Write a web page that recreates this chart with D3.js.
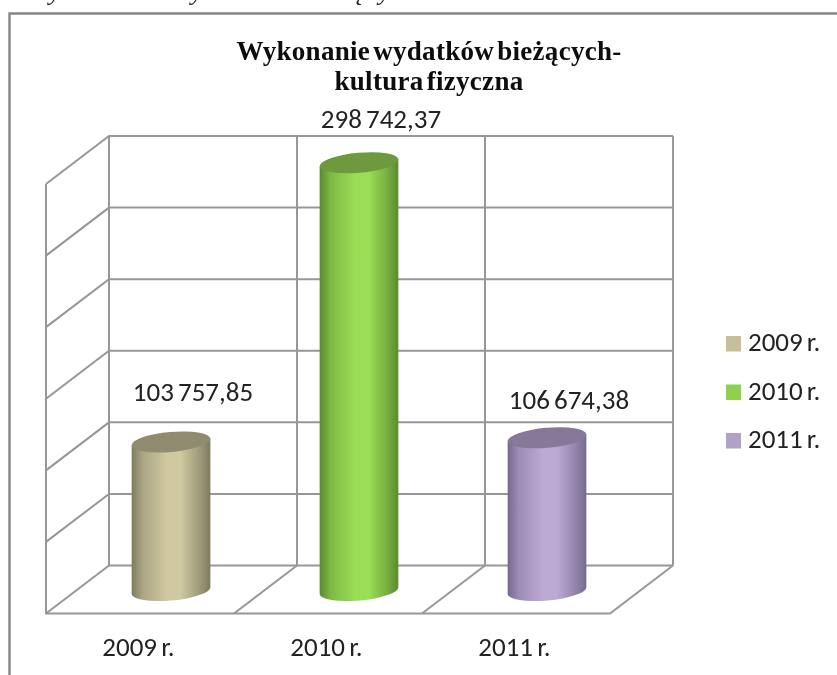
<!DOCTYPE html>
<html><head><meta charset="utf-8">
<script src="https://cdn.jsdelivr.net/npm/d3@7"></script>
<style>html,body{margin:0;padding:0;background:#fff}svg{display:block}</style>
</head><body><svg id="c" width="837" height="675"></svg>
<script>
const categories=["2009 r.","2010 r.","2011 r."];
const values=[103757.85,298742.37,106674.38];
const valueLabels=["103 757,85","298 742,37","106 674,38"];
const tickValues=[0,50000,100000,150000,200000,250000,300000];
const bodyColors=["#cfc8a0","#9ade56","#bcaad4"];
const legendColors=["#c6bf9a","#8fd14f","#b1a0c7"];
const darkColors=["#7d7a60","#5c8a30","#77688f"];
const topColors=["#918c6f","#6c9a3e","#87789a"];
const titleLines=["Wykonanie wydatków bieżących-","kultura fizyczna"];
const caption="Wydatki na wydatków bieżących w latach 2009 - 2011 r.";
const labelBaselines=[400.5,128,409];

const svg=d3.select("#c");
const defs=svg.append("defs");
const grid="#979797";
const font="Carlito, Calibri, 'Open Sans', 'Noto Sans', sans-serif";
const dx=63, dy=48;
const y=d3.scaleLinear().domain([0,300000]).range([565.5,136]);
const x=d3.scaleBand().domain(categories).range([109,673]);
const barBase=590.5, rx=39.5, ry=10, tilt=-5;

defs.append("filter").attr("id","soft").append("feGaussianBlur").attr("stdDeviation",0.45);
const soft=svg.append("g").attr("filter","url(#soft)");

soft.append("text").attr("x",28).attr("y",-0.5).attr("font-family","Liberation Serif")
  .attr("font-style","italic").attr("font-size",26).attr("letter-spacing",2).attr("fill","#222").text(caption);
soft.append("path").attr("d","M9.5,675V13.5H837").attr("fill","none").attr("stroke","#868686").attr("stroke-width",2.4);

const g=soft.append("g").attr("fill","none").attr("stroke",grid).attr("stroke-width",2);
tickValues.forEach(t=>{
  const yy=y(t);
  g.append("path").attr("d",d3.line()([[109-dx,yy+dy],[109,yy],[673,yy]]));
});
g.append("path").attr("d",d3.line()([[109-dx,y(300000)+dy],[109-dx,y(0)+dy],[673-dx,y(0)+dy],[673,y(0)]]));
[...categories.map(c=>x(c)),673].forEach(px=>{
  g.append("path").attr("d",d3.line()([[px,y(300000)],[px,y(0)]]));
});
categories.slice(1).forEach(c=>{
  g.append("path").attr("d",d3.line()([[x(c),y(0)],[x(c)-dx,y(0)+dy]]));
});

const hScale=d3.scaleLinear().domain([0,300000]).range([0,y(0)-y(300000)]);
categories.forEach((c,i)=>{
  const cx=x(c)+x.bandwidth()/2-dx/2-0.5;
  const topY=barBase-hScale(values[i]);
  const id="grad"+i;
  const mix=d3.interpolateRgb(darkColors[i],bodyColors[i]);
  const lg=defs.append("linearGradient").attr("id",id).attr("x1",0).attr("x2",1).attr("y1",0).attr("y2",0);
  [[0,darkColors[i]],[.14,mix(.55)],[.45,bodyColors[i]],[.62,bodyColors[i]],[.85,mix(.45)],[1,darkColors[i]]]
    .forEach(s=>lg.append("stop").attr("offset",s[0]).attr("stop-color",s[1]));
  const a=tilt*Math.PI/180, ex=rx*Math.cos(a), ey=rx*Math.sin(a);
  const l=cx-ex, r=cx+ex;
  soft.append("path")
    .attr("d",`M${l},${topY-ey}L${l},${barBase-ey}A${rx},${ry} ${tilt} 0 0 ${r},${barBase+ey}L${r},${topY+ey}Z`)
    .attr("fill",`url(#${id})`);
  soft.append("ellipse").attr("rx",rx).attr("ry",ry)
    .attr("transform",`translate(${cx},${topY}) rotate(${tilt})`).attr("fill",topColors[i]);
  soft.append("text").attr("x",cx+22).attr("y",labelBaselines[i])
    .attr("text-anchor","middle").attr("font-family",font).attr("font-size",27).attr("word-spacing",-2).attr("fill","#222").text(valueLabels[i]);
  soft.append("text").attr("x",x(c)-dx+92.5).attr("y",656)
    .attr("text-anchor","middle").attr("font-family",font).attr("font-size",27).attr("word-spacing",-2).attr("fill","#222").text(c);
  soft.append("rect").attr("x",726).attr("y",336+i*48.5).attr("width",15).attr("height",15.5).attr("fill",legendColors[i]);
  soft.append("text").attr("x",748).attr("y",351+i*48.5).attr("font-family",font).attr("font-size",27).attr("word-spacing",-2).attr("fill","#222").text(c);
});

titleLines.forEach((t,i)=>{
  soft.append("text").attr("x",429).attr("y",i==0?59.5:89.5).attr("text-anchor","middle")
    .attr("font-family","Liberation Serif").attr("font-weight","bold").attr("font-size",27)
    .attr("word-spacing",-4).attr("letter-spacing",0.3).attr("fill","#111").text(t);
});
</script></body></html>
